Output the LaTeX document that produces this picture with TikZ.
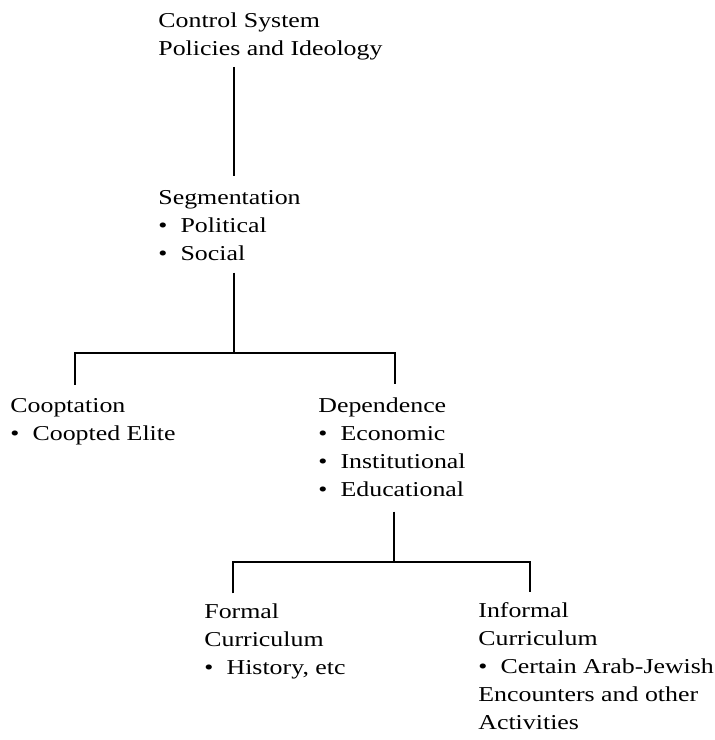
\documentclass[tikz,border=0pt]{standalone}
\usepackage{fontspec}
\setmainfont{Liberation Serif}[FakeStretch=1.22]
\newcommand{\itm}{\textbullet\hspace{0.62em}}
\tikzset{
  box/.style={anchor=base west, align=left, inner sep=0pt,
    font=\fontsize{10.6}{14}\selectfont},
  link/.style={line width=0.9pt}
}

\begin{document}
\begin{tikzpicture}[x=0.5pt,y=-0.5pt]
    \useasboundingbox (0,0) rectangle (715,740);

    % nodes sit on the baseline of their last line
    \node[box] (ctrl) at (158,55) {Control System\\Policies and Ideology};
    \node[box] (seg) at (158,260) {Segmentation\\\itm Political\\\itm Social};
    \node[box] (coop) at (10,440) {Cooptation\\\itm Coopted Elite};
    \node[box] (dep) at (318,496)
        {Dependence\\\itm Economic\\\itm Institutional\\\itm Educational};
    \node[box] (formal) at (204,674) {Formal\\Curriculum\\\itm History, etc};
    \node[box] (informal) at (478,729)
        {Informal\\Curriculum\\\itm Certain Arab-Jewish\\Encounters and other\\Activities};

    \coordinate (j1) at (234,353);
    \coordinate (b1l) at (75,353);
    \coordinate (b1r) at (395,353);
    \coordinate (j2) at (394,562);
    \coordinate (b2l) at (233,562);
    \coordinate (b2r) at (530,562);

    \draw [link] ([yshift=-3.5pt]ctrl.south -| j1)
        -- ([yshift=6.85pt]seg.north -| j1);
    \draw [link] ([yshift=-6pt]seg.south -| j1) -- (j1);
    \draw [link] ([yshift=6.35pt]coop.north -| b1l)
        -- (b1l) -- (b1r) -- ([yshift=6.25pt]dep.north -| b1r);
    \draw [link] ([yshift=-7.5pt]dep.south -| j2) -- (j2);
    \draw [link] ([yshift=4.75pt]formal.north -| b2l)
        -- (b2l) -- (b2r) -- ([yshift=4.75pt]informal.north -| b2r);
\end{tikzpicture}
\end{document}
